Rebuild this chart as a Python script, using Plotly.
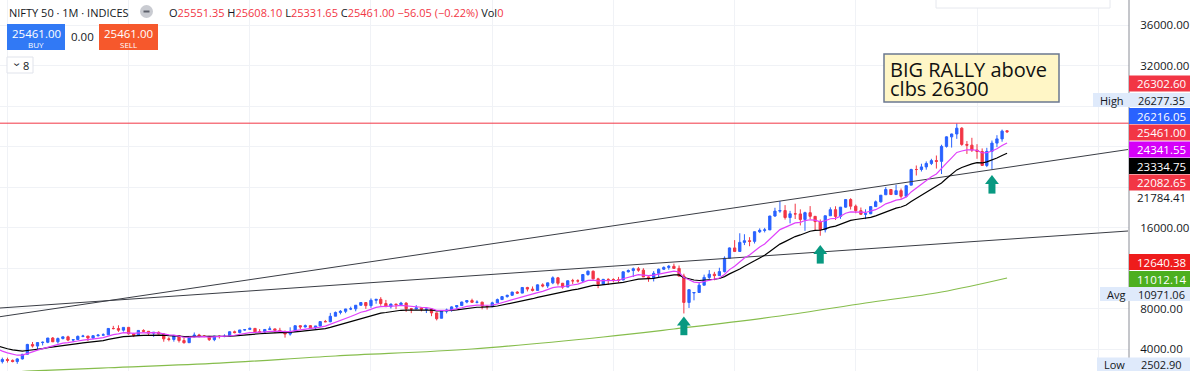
import pandas as pd
import plotly.graph_objects as go

# ---------------- DATA ----------------
# 2007 monthly closes (only used to warm up the moving averages)
warmup_close = [4083, 3745, 3822, 4087, 4296, 4318, 4529, 4464, 5021, 5901, 5762, 6139]

# NIFTY 50 monthly candles, Jan 2008 .. Jul 2025
open_ = [
    6136, 5137, 5224, 4735, 5166, 4870, 4040, 4333, 4360, 3921, 2885, 2755,
    2959, 2874, 2763, 3021, 3478, 4449, 4291, 4636, 4662, 5084, 4712, 5033,
    5201, 4882, 4935, 5249, 5278, 5087, 5313, 5368, 5404, 6030, 6018, 5863,
    6135, 5506, 5348, 5834, 5749, 5560, 5647, 5482, 5001, 4943, 5327, 4832,
    4624, 5199, 5385, 5296, 5248, 4924, 5279, 5229, 5259, 5703, 5620, 5880,
    5937, 6035, 5693, 5683, 5930, 5986, 5842, 5742, 5472, 5735, 6299, 6176,
    6304, 6090, 6277, 6704, 6696, 7239, 7611, 7721, 7954, 7965, 8322, 8588,
    8283, 8809, 8902, 8491, 8182, 8434, 8369, 8533, 7971, 7949, 8066, 7935,
    7946, 7564, 7036, 7738, 7850, 8160, 8288, 8639, 8786, 8611, 8626, 8224,
    8186, 8561, 8880, 9174, 9304, 9621, 9521, 10077, 9918, 9789, 10335, 10227,
    10531, 11028, 10493, 10114, 10739, 10736, 10714, 11357, 11681, 10930, 10387, 10877,
    10863, 10831, 10817, 11624, 11748, 11923, 11789, 11118, 11023, 11474, 11877, 12056,
    12168, 11962, 11202, 8598, 9533, 9580, 10302, 11073, 11388, 11248, 11642, 12969,
    13982, 13635, 14529, 14691, 14631, 15583, 15722, 15763, 17132, 17618, 17672, 16983,
    17354, 17340, 16794, 17465, 17103, 16585, 15780, 17158, 17759, 17094, 18012, 18758,
    18105, 17662, 17304, 17360, 18065, 18534, 19234, 19754, 19254, 19638, 19080, 20183,
    21731, 21726, 21983, 22327, 22605, 22531, 24011, 24951, 25236, 25811, 24205, 24131,
    23645, 23508, 22125, 23519, 24334, 24751, 25551.35,
]
high = [
    6357, 5546, 5273, 5230, 5298, 4908, 4540, 4650, 4558, 3950, 3240, 3147,
    3147, 2968, 3098, 3517, 4509, 4694, 4669, 4744, 5088, 5182, 5139, 5221,
    5311, 4938, 5329, 5400, 5279, 5367, 5478, 5549, 6073, 6285, 6339, 6147,
    6182, 5600, 5872, 5944, 5775, 5657, 5740, 5552, 5170, 5399, 5326, 5099,
    5217, 5630, 5499, 5379, 5279, 5286, 5349, 5449, 5735, 5815, 5885, 5965,
    6112, 6052, 5971, 5962, 6229, 6012, 6094, 5808, 6142, 6309, 6342, 6415,
    6358, 6282, 6730, 6869, 7563, 7700, 7841, 7968, 8180, 8330, 8617, 8627,
    8996, 8941, 9119, 8845, 8490, 8467, 8655, 8622, 8055, 8336, 8116, 7979,
    7973, 7600, 7777, 7992, 8213, 8308, 8675, 8819, 8968, 8806, 8669, 8274,
    8672, 8982, 9218, 9367, 9649, 9710, 10115, 10138, 10179, 10384, 10490, 10552,
    11171, 11118, 10525, 10759, 10929, 10893, 11367, 11760, 11751, 11035, 10922, 10985,
    10987, 11119, 11630, 11856, 12041, 12103, 11981, 11181, 11695, 11945, 12159, 12294,
    12431, 12247, 11433, 9889, 9598, 10554, 11341, 11794, 11618, 12025, 13145, 14024,
    14754, 15432, 15336, 15044, 15606, 15916, 15962, 17153, 17948, 18604, 18210, 17640,
    18351, 17794, 17559, 18115, 17132, 16794, 17172, 17992, 18096, 18022, 18816, 18888,
    18265, 17972, 17800, 18089, 18662, 19201, 19992, 19796, 20222, 19850, 20158, 21802,
    22124, 22297, 22527, 22784, 23111, 24174, 24999, 25268, 26277.35, 25908, 24538, 24858,
    24226, 23807, 23870, 24589, 25116, 25669, 25608.10,
]
low = [
    4448, 4803, 4468, 4628, 4777, 3997, 3791, 4201, 3715, 2253, 2503, 2570,
    2661, 2677, 2539, 2966, 3478, 4144, 3919, 4354, 4576, 4687, 4538, 4944,
    4767, 4675, 4935, 5161, 4786, 4961, 5225, 5349, 5404, 5937, 5691, 5721,
    5416, 5178, 5348, 5693, 5329, 5195, 5453, 4720, 4758, 4728, 4640, 4531,
    4588, 5159, 5135, 5154, 4789, 4770, 5033, 5165, 5216, 5548, 5548, 5823,
    5935, 5671, 5604, 5477, 5910, 5566, 5675, 5119, 5318, 5700, 5972, 6129,
    6027, 5933, 6212, 6650, 6638, 7239, 7422, 7540, 7841, 7724, 8290, 7961,
    8065, 8470, 8269, 8145, 7997, 7940, 8315, 7667, 7540, 7931, 7714, 7551,
    7241, 6825, 7036, 7516, 7678, 7927, 8287, 8518, 8555, 8506, 7916, 7894,
    8133, 8537, 8860, 9075, 9269, 9449, 9543, 9686, 9688, 9831, 10094, 10033,
    10404, 10276, 9952, 10111, 10418, 10550, 10604, 11234, 10850, 10005, 10342, 10334,
    10583, 10586, 10817, 11550, 11108, 11625, 11107, 10637, 10670, 11090, 11802, 11832,
    11929, 11175, 7511, 8055, 8807, 9544, 10300, 10882, 10790, 11347, 11557, 12962,
    13597, 13662, 14265, 14151, 14417, 15451, 15514, 15835, 17055, 17452, 16782, 16410,
    16837, 16203, 15671, 16825, 15736, 15184, 15512, 17154, 16748, 16856, 17960, 17774,
    17405, 17255, 16828, 17312, 18042, 18465, 19234, 19224, 19255, 18838, 18974, 20183,
    21137, 21530, 21711, 22168, 21822, 21282, 23893, 23894, 24754, 24073, 23263, 23460,
    22787, 22105, 21965, 21743, 23936, 24473, 25331.65,
]
close = [
    5137, 5224, 4735, 5166, 4870, 4040, 4333, 4360, 3921, 2885, 2755, 2959,
    2874, 2763, 3021, 3474, 4449, 4291, 4636, 4662, 5084, 4712, 5033, 5201,
    4882, 4922, 5249, 5278, 5087, 5313, 5368, 5402, 6030, 6018, 5863, 6135,
    5506, 5333, 5834, 5749, 5560, 5647, 5482, 5001, 4943, 5327, 4832, 4624,
    5199, 5385, 5296, 5248, 4924, 5279, 5229, 5259, 5703, 5620, 5880, 5905,
    6035, 5693, 5683, 5930, 5986, 5842, 5742, 5472, 5735, 6299, 6176, 6304,
    6090, 6277, 6704, 6696, 7230, 7611, 7721, 7954, 7965, 8322, 8588, 8283,
    8809, 8902, 8491, 8182, 8434, 8369, 8533, 7971, 7949, 8066, 7935, 7946,
    7564, 6988, 7738, 7850, 8160, 8288, 8639, 8786, 8611, 8626, 8224, 8186,
    8561, 8880, 9174, 9304, 9621, 9521, 10077, 9918, 9789, 10335, 10227, 10531,
    11028, 10493, 10114, 10739, 10736, 10714, 11357, 11681, 10930, 10387, 10877, 10863,
    10831, 10793, 11624, 11748, 11923, 11789, 11118, 11023, 11474, 11877, 12056, 12168,
    11962, 11202, 8598, 9860, 9580, 10302, 11073, 11388, 11248, 11642, 12969, 13982,
    13635, 14529, 14691, 14631, 15583, 15722, 15763, 17132, 17618, 17672, 16983, 17354,
    17340, 16794, 17465, 17103, 16585, 15780, 17158, 17759, 17094, 18012, 18758, 18105,
    17662, 17304, 17360, 18065, 18534, 19189, 19754, 19254, 19638, 19080, 20133, 21731,
    21726, 21983, 22327, 22605, 22531, 24011, 24951, 25236, 25811, 24205, 24131, 23645,
    23508, 22125, 23519, 24334, 24751, 25517, 25461.00,
]
assert len(open_) == len(high) == len(low) == len(close)
months = pd.date_range("2008-01-01", periods=len(close), freq="MS")

# long moving average (green)
green_dates = ["2008-12-01", "2009-06-01", "2010-09-01", "2012-07-01", "2014-06-01",
               "2016-09-01", "2018-11-01", "2020-01-01", "2021-10-01", "2023-03-01",
               "2024-06-01", "2025-07-01"]
green_vals = [1650, 1830, 2150, 2607, 3309, 4000, 5185, 5975, 7259, 8543, 9630, 11012]

# drawn trend lines (start / end anchors)
trend_dates = ["2008-11-17", "2027-06-30"]
trend_a = [7190, 23704]
trend_b = [8049, 15654]
level_red = 26302.60

# arrows under swing lows
arrow_dates = ["2020-03-01", "2022-06-01", "2025-04-01"]
arrow_tip = [7200, 14272, 21185]

# right-hand price labels
label_values = ["26302.60", "26216.05", "25461.00", "24341.55", "23334.75", "22082.65",
                "12640.38", "11012.14"]
label_colors = ["#f23645", "#2962ff", "#f23645", "#d500f9", "#000000", "#f23645",
                "#ee1c1c", "#4caf1f"]
stat_names = ["High", "Avg", "Low"]
stat_values = ["26277.35", "10971.06", "2502.90"]

# ---------------- GEOMETRY HELPERS ----------------
W, H = 1200, 371
PW = 1129  # plot width in px
Y_RANGE = [1827, 38469]
X_RANGE = ["2008-11-17", "2027-07-06"]
PX_VAL = (Y_RANGE[1] - Y_RANGE[0]) / H   # value units per pixel


def fx(px):
    return px / PW


def fy(py):
    return 1 - py / H


UP = "#2962ff"
DOWN = "#f23645"
TXT = "#131722"
FONT = "Open Sans"

# moving averages from closes
all_close = pd.Series(warmup_close + close)
ema_fast = all_close.ewm(span=10, adjust=False).mean().iloc[len(warmup_close):]
ema_slow = all_close.ewm(span=20, adjust=False).mean().iloc[len(warmup_close):]

fig = go.Figure()

fig.add_trace(go.Scatter(x=green_dates, y=green_vals, mode="lines",
                         line=dict(color="#86bd4c", width=1.2, shape="spline"),
                         hoverinfo="skip", showlegend=False))
fig.add_trace(go.Scatter(x=trend_dates, y=trend_a, mode="lines",
                         line=dict(color="#3a3d45", width=1), hoverinfo="skip", showlegend=False))
fig.add_trace(go.Scatter(x=trend_dates, y=trend_b, mode="lines",
                         line=dict(color="#3a3d45", width=1), hoverinfo="skip", showlegend=False))

fig.add_trace(go.Candlestick(
    x=months, open=open_, high=high, low=low, close=close,
    increasing=dict(line=dict(color=UP, width=1), fillcolor=UP),
    decreasing=dict(line=dict(color=DOWN, width=1), fillcolor=DOWN),
    whiskerwidth=0, hoverinfo="skip", showlegend=False))

fig.add_trace(go.Scatter(x=months, y=ema_slow, mode="lines",
                         line=dict(color="#000000", width=1.2), hoverinfo="skip", showlegend=False))
fig.add_trace(go.Scatter(x=months, y=ema_fast, mode="lines",
                         line=dict(color="#e040fb", width=1.2), hoverinfo="skip", showlegend=False))

# arrows: triangle head + thick stem
head_y = [v - 6 * PX_VAL for v in arrow_tip]
stem_y = [v - 13 * PX_VAL for v in arrow_tip]
fig.add_trace(go.Scatter(x=arrow_dates, y=stem_y, mode="markers",
                         marker=dict(symbol="line-ns", size=8,
                                     line=dict(color="#089981", width=7)),
                         hoverinfo="skip", showlegend=False))
fig.add_trace(go.Scatter(x=arrow_dates, y=head_y, mode="markers",
                         marker=dict(symbol="triangle-up", size=12, color="#089981",
                                     line=dict(width=0)),
                         hoverinfo="skip", showlegend=False))

shapes = []
annotations = []

# red horizontal level
shapes.append(dict(type="line", xref="paper", yref="y", x0=0, x1=1, y0=level_red, y1=level_red,
                   line=dict(color="#f23645", width=1)))
# price-scale border
shapes.append(dict(type="line", xref="paper", yref="paper", x0=1, x1=1, y0=0, y1=1,
                   line=dict(color="#8a8d96", width=1)))


def rect(x0, y0, x1, y1, fill, line=None, lw=1):
    shapes.append(dict(type="rect", xref="paper", yref="paper",
                       x0=fx(x0), x1=fx(x1), y0=fy(y1), y1=fy(y0),
                       fillcolor=fill, line=dict(color=line or fill, width=lw if line else 0),
                       layer="above"))


def text(x, y, s, size=11.5, color=TXT, anchor="left", family=FONT):
    annotations.append(dict(xref="paper", yref="paper", x=fx(x), y=fy(y), text=s,
                            showarrow=False, xanchor=anchor, yanchor="middle",
                            font=dict(size=size, color=color, family=family)))


# top-right floating panel edge
rect(936, -6, 1110, 8, "#ffffff", "#e6e8ee")

# colored price labels on the scale
label_rows = [83.5, 116, 132.5, 149.5, 166, 182.5, 262, 279]
for val, col, yc in zip(label_values, label_colors, label_rows):
    rect(1129, yc - 8, 1190, yc + 8, col)
    text(1161, yc, val, color="#ffffff", anchor="center")

# High / Avg / Low statistic rows
stat_rows = [100, 294, 364.5]
stat_left = [1093, 1100, 1097]
for name, val, yc, xl in zip(stat_names, stat_values, stat_rows, stat_left):
    rect(xl, yc - 7, 1190, yc + 7, "#dfeafb")
    text(xl + 5, yc, name, size=11)
    text(1161, yc, val, size=11, anchor="center")

text(1161, 197, "21784.41", anchor="center")

# header
text(7, 12, "NIFTY 50 · 1M · INDICES", size=11)
shapes.append(dict(type="circle", xref="paper", yref="paper",
                   x0=fx(140), x1=fx(153), y0=fy(18), y1=fy(5),
                   fillcolor="#c9cbd1", line=dict(width=0)))
shapes.append(dict(type="line", xref="paper", yref="paper",
                   x0=fx(143.5), x1=fx(149.5), y0=fy(11.5), y1=fy(11.5),
                   line=dict(color="#5d606b", width=2)))
R = "#f23645"


def c(s, col):
    return f"<span style='color:{col}'>{s}</span>"


ohlc = (c("O", TXT) + c("25551.35", R) + " " + c("H", TXT) + c("25608.10", R) + " "
        + c("L", TXT) + c("25331.65", R) + " " + c("C", TXT) + c("25461.00", R) + " "
        + c("−56.05 (−0.22%)", R) + " " + c("Vol", TXT) + c("0", R))
text(167, 12, ohlc, size=11)

rect(7, 24, 65, 50, "#3179f5")
text(36, 33, "25461.00", size=11.5, color="#ffffff", anchor="center")
text(36, 44.5, "BUY", size=8, color="#ffffff", anchor="center")
text(82.5, 37, "0.00", size=11.5, anchor="center")
rect(99, 24, 158, 50, "#f6582c")
text(128.5, 33, "25461.00", size=11.5, color="#ffffff", anchor="center")
text(128.5, 44.5, "SELL", size=8, color="#ffffff", anchor="center")

rect(7, 57, 33, 73, "#ffffff", "#e0e3eb")
text(14.5, 64, "‹", size=12, anchor="center")
annotations[-1]["textangle"] = -90
text(26, 65, "8", size=11, anchor="center")

# text note
rect(884, 54, 1059, 102, "#fff6c6", "#6b7890", 1.5)
text(888, 69, "BIG RALLY above", size=20, color="#111111")
text(888, 88, "clbs 26300", size=20, color="#111111")

tickvals = list(range(4000, 36001, 4000))
ticktext = [f"{v:.2f}" if v in (4000, 8000, 16000, 32000, 36000) else "" for v in tickvals]

fig.update_layout(
    width=W, height=H,
    margin=dict(l=0, r=W - PW, t=0, b=0),
    paper_bgcolor="#ffffff", plot_bgcolor="#ffffff",
    font=dict(family=FONT, color=TXT),
    showlegend=False,
    shapes=shapes, annotations=annotations,
    xaxis=dict(type="date", range=X_RANGE, showticklabels=False, showgrid=True,
               gridcolor="#f0f2f6", gridwidth=1, dtick="M24", tick0="2009-01-01",
               zeroline=False, showline=False, rangeslider=dict(visible=False), fixedrange=True),
    yaxis=dict(side="right", range=Y_RANGE, tickvals=tickvals, ticktext=ticktext,
               showgrid=True, gridcolor="#f0f2f6", zeroline=False, showline=False,
               ticks="outside", ticklen=4, tickcolor="rgba(0,0,0,0)",
               ticklabelstandoff=4,
               tickfont=dict(size=11.5, color=TXT, family=FONT), fixedrange=True),
)

fig.write_html("out.html", config={"displayModeBar": False},
               post_script="document.body.style.margin='0px';document.body.style.padding='0px';")
